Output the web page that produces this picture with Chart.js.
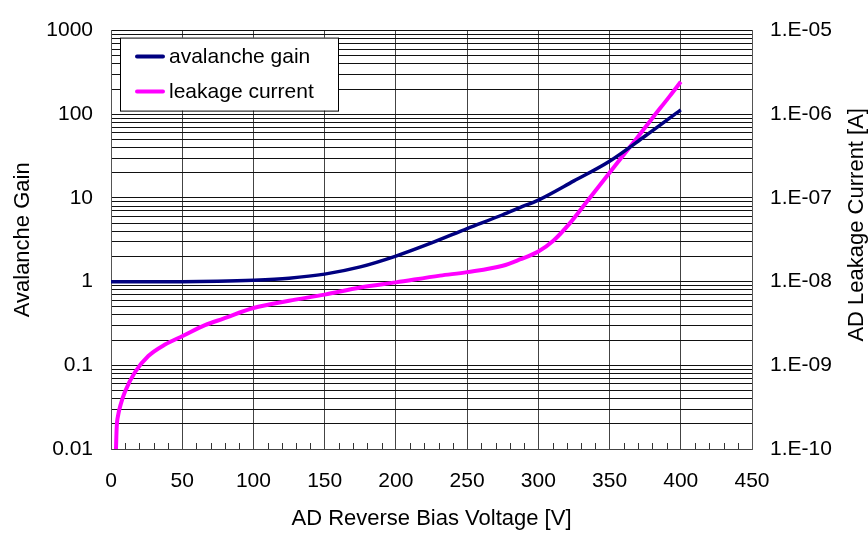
<!DOCTYPE html>
<html>
<head>
<meta charset="utf-8">
<script src="https://cdn.jsdelivr.net/npm/chart.js@4"></script>
<style>
  html, body { margin: 0; padding: 0; background: #fff; }
  #wrap { width: 868px; height: 533px; position: relative; }
</style>
</head>
<body>
<div id="wrap"><canvas id="c"></canvas></div>
<script>
// Avalanche gain vs. reverse bias voltage
const gainVoltage = [0, 25, 50, 75, 100, 125, 150, 175, 200, 225, 250, 275, 287, 300, 325, 350, 375, 400];
const gainValues  = [1.0, 1.0, 1.0, 1.01, 1.04, 1.1, 1.23, 1.5, 2.02, 2.9, 4.3, 6.3, 7.67, 9.44, 16, 27.5, 55, 113];

// Leakage current [A] vs. reverse bias voltage
const leakVoltage = [3.5, 4.0, 5.1, 7, 9.8, 16.8, 26.2, 37.9, 50.3, 66, 78.9, 100, 125, 150, 175, 200,
                     231, 250, 275, 287, 300, 310.5, 322.2, 334, 345.6, 357.3, 369, 380.7, 392.4, 400];
const leakCurrent = [1.0e-10, 1.82e-10, 2.57e-10, 3.5e-10, 4.83e-10, 8.26e-10, 1.29e-9, 1.77e-9, 2.24e-9, 3.02e-9, 3.61e-9,
                     4.84e-9, 5.9e-9, 7.0e-9, 8.5e-9, 9.8e-9,
                     1.18e-8, 1.3e-8, 1.55e-8, 1.84e-8, 2.29e-8, 3.08e-8, 5.0e-8, 9.0e-8, 1.61e-7, 2.88e-7, 5.15e-7,
                     9.3e-7, 1.66e-6, 2.45e-6];

// Axis tick labels
const voltageTicks = [0, 50, 100, 150, 200, 250, 300, 350, 400, 450];
const gainTickLabels = ['0.01', '0.1', '1', '10', '100', '1000'];
const currentTickLabels = ['1.E-10', '1.E-09', '1.E-08', '1.E-07', '1.E-06', '1.E-05'];

const seriesNames = ['avalanche gain', 'leakage current'];
const seriesColors = ['#000080', '#FF00FF'];

const FONT = "'Liberation Sans', Arial, sans-serif";

// all 1..9 × 10^n ticks between two decades
function logTicks(minExp, maxExp) {
  const t = [];
  for (let e = minExp; e < maxExp; e++) {
    for (let m = 1; m <= 9; m++) t.push({ value: m * Math.pow(10, e) });
  }
  t.push({ value: Math.pow(10, maxExp) });
  return t;
}
function decadeIndex(v, minExp) {
  const l = Math.log10(v);
  const r = Math.round(l);
  return Math.abs(l - r) < 1e-6 ? r - minExp : -1;
}

const gainData = gainVoltage.map((x, i) => ({ x, y: gainValues[i] }));
const leakData = leakVoltage.map((x, i) => ({ x, y: leakCurrent[i] }));

// minor voltage ticks, the legend box inside the plot area and the right axis title (bottom-to-top)
const decorations = {
  id: 'decorations',
  afterDraw(chart) {
    const { ctx, chartArea: a } = chart;
    ctx.save();
    const xs = chart.scales.x;
    ctx.strokeStyle = '#333';
    ctx.lineWidth = 1;
    for (let v = 10; v < 450; v += 10) {
      if (v % 50 === 0) continue;
      const px = Math.round(xs.getPixelForValue(v)) + 0.5;
      ctx.beginPath();
      ctx.moveTo(px, a.bottom);
      ctx.lineTo(px, a.bottom - 6);
      ctx.stroke();
    }
    const bx = a.left + 9, by = a.top + 7, bw = 218, bh = 73;
    ctx.fillStyle = '#fff';
    ctx.fillRect(bx, by, bw, bh);
    ctx.strokeStyle = '#000';
    ctx.lineWidth = 1;
    ctx.strokeRect(bx + 0.5, by + 0.5, bw, bh);
    ctx.font = '21px ' + FONT;
    ctx.textBaseline = 'middle';
    ctx.textAlign = 'left';
    seriesNames.forEach((name, i) => {
      const ly = by + 19 + i * 35;
      ctx.strokeStyle = seriesColors[i];
      ctx.lineWidth = 4;
      ctx.lineCap = 'round';
      ctx.beginPath();
      ctx.moveTo(bx + 17, ly);
      ctx.lineTo(bx + 43, ly);
      ctx.stroke();
      ctx.fillStyle = '#000';
      ctx.fillText(name, bx + 49, ly + 1);
    });
    ctx.translate(a.right + 105, (a.top + a.bottom) / 2 - 15);
    ctx.rotate(-Math.PI / 2);
    ctx.textAlign = 'center';
    ctx.textBaseline = 'middle';
    ctx.font = '22px ' + FONT;
    ctx.fillStyle = '#000';
    ctx.fillText('AD Leakage Current [A]', 0, 0);
    ctx.restore();
  }
};

new Chart(document.getElementById('c'), {
  type: 'line',
  data: {
    datasets: [
      {
        label: seriesNames[0],
        data: gainData,
        yAxisID: 'y',
        borderColor: seriesColors[0],
        borderWidth: 3.5,
        pointRadius: 0,
        cubicInterpolationMode: 'monotone',
        fill: false
      },
      {
        label: seriesNames[1],
        data: leakData,
        yAxisID: 'y2',
        borderColor: seriesColors[1],
        borderWidth: 4,
        pointRadius: 0,
        cubicInterpolationMode: 'monotone',
        fill: false
      }
    ]
  },
  options: {
    responsive: true,
    maintainAspectRatio: false,
    animation: false,
    layout: { padding: { top: 20, left: 0, right: 0, bottom: 0 } },
    plugins: {
      legend: { display: false },
      tooltip: { enabled: false }
    },
    scales: {
      x: {
        type: 'linear',
        min: 0,
        max: 450,
        afterBuildTicks(s) {
          const t = [];
          for (let v = 0; v <= 450; v += 10) t.push({ value: v });
          s.ticks = t;
        },
        afterFit(s) { s.height = 84; },
        ticks: {
          autoSkip: false,
          maxRotation: 0,
          padding: 20,
          color: '#000',
          font: { family: FONT, size: 21 },
          callback: (v) => voltageTicks.includes(v) ? String(v) : ''
        },
        grid: {
          drawTicks: false,
          color: (c) => (c.tick && c.tick.value % 50 === 0) ? '#444' : 'rgba(0,0,0,0)',
          lineWidth: 1
        },
        border: { display: true, color: '#444', width: 1 },
        title: {
          display: true,
          text: 'AD Reverse Bias Voltage [V]',
          color: '#000',
          font: { family: FONT, size: 22 },
          padding: { top: 0, bottom: 1 }
        }
      },
      y: {
        type: 'logarithmic',
        position: 'left',
        min: 0.01,
        max: 1000,
        afterBuildTicks(s) { s.ticks = logTicks(-2, 3); },
        afterFit(s) { s.width = 111; },
        ticks: {
          autoSkip: false,
          padding: 18,
          color: '#000',
          font: { family: FONT, size: 21 },
          callback: (v) => {
            const i = decadeIndex(v, -2);
            return i >= 0 ? gainTickLabels[i] : '';
          }
        },
        grid: { drawTicks: false, color: '#111', lineWidth: 1 },
        border: { display: true, color: '#555', width: 1 },
        title: {
          display: true,
          text: 'Avalanche Gain',
          color: '#000',
          font: { family: FONT, size: 22 },
          padding: { top: 10, bottom: 0 }
        }
      },
      y2: {
        type: 'logarithmic',
        position: 'right',
        min: 1e-10,
        max: 1e-5,
        afterBuildTicks(s) { s.ticks = logTicks(-10, -5); },
        afterFit(s) { s.width = 116; },
        ticks: {
          autoSkip: false,
          padding: 18,
          color: '#000',
          font: { family: FONT, size: 21 },
          callback: (v) => {
            const i = decadeIndex(v, -10);
            return i >= 0 ? currentTickLabels[i] : '';
          }
        },
        grid: { display: false, drawTicks: false },
        border: { display: true, color: '#555', width: 1 }
      }
    }
  },
  plugins: [decorations]
});
</script>
</body>
</html>
